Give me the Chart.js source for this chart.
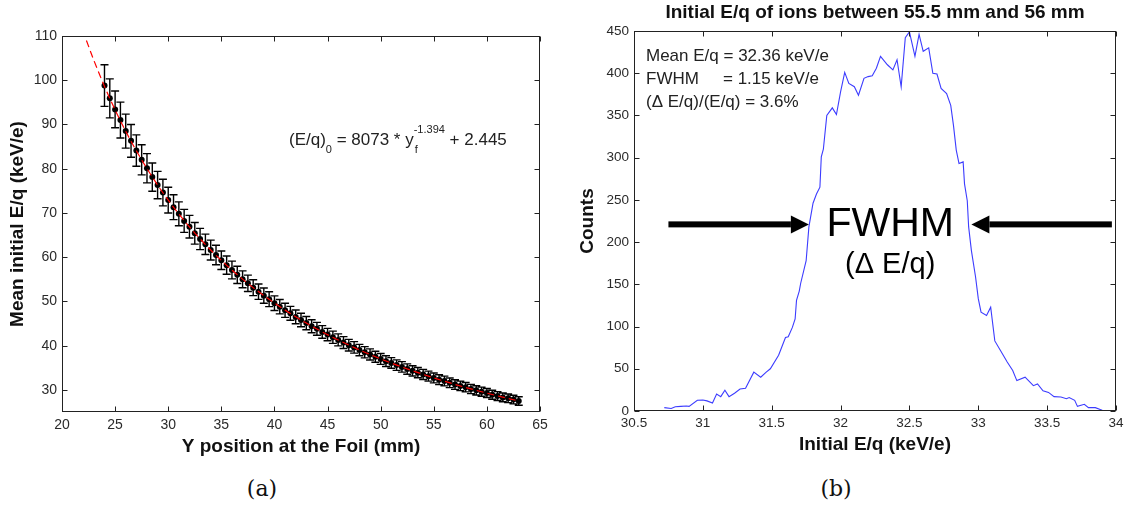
<!DOCTYPE html>
<html>
<head>
<meta charset="utf-8">
<script src="https://cdn.jsdelivr.net/npm/chart.js@4.4.1/dist/chart.umd.min.js"></script>
<style>
  html, body { margin: 0; padding: 0; background: #fff; }
  body { width: 1132px; height: 512px; position: relative; overflow: hidden; }
  .panel { position: absolute; top: 0; height: 470px; }
  #panelA { left: 0; width: 560px; }
  #panelB { left: 570px; width: 562px; }
  .caption {
    position: absolute; top: 476px;
    font-family: "DejaVu Serif", "Liberation Serif", serif;
    font-size: 22px; color: #111;
    transform: translateX(-50%);
  }
</style>
</head>
<body>
<div class="panel" id="panelA"><canvas id="fitChart"></canvas></div>
<div class="panel" id="panelB"><canvas id="histChart"></canvas></div>
<div class="caption" style="left:262px">(a)</div>
<div class="caption" style="left:836px">(b)</div>

<script>
const FONT = '"Liberation Sans", Arial, Helvetica, sans-serif';
Chart.defaults.font.family = FONT;
Chart.defaults.color = '#2a2a2a';

// ---- panel (a): mean initial E/q against foil position ----
const foilY = [
  24, 24.5, 25, 25.5, 26, 26.5, 27, 27.5, 28, 28.5, 29, 29.5, 30, 30.5, 31, 31.5,
  32, 32.5, 33, 33.5, 34, 34.5, 35, 35.5, 36, 36.5, 37, 37.5, 38, 38.5, 39, 39.5,
  40, 40.5, 41, 41.5, 42, 42.5, 43, 43.5, 44, 44.5, 45, 45.5, 46, 46.5, 47, 47.5,
  48, 48.5, 49, 49.5, 50, 50.5, 51, 51.5, 52, 52.5, 53, 53.5, 54, 54.5, 55, 55.5,
  56, 56.5, 57, 57.5, 58, 58.5, 59, 59.5, 60, 60.5, 61, 61.5, 62, 62.5, 63
];
const meanEq = [
  98.8, 95.9, 93.4, 91.0, 88.5, 86.3, 84.1, 82.0, 80.1, 78.1, 76.3, 74.6, 72.9, 71.3, 69.8, 68.2,
  66.9, 65.4, 64.1, 62.9, 61.6, 60.5, 59.3, 58.2, 57.1, 56.0, 55.0, 54.1, 53.1, 52.2, 51.3, 50.5,
  49.6, 48.8, 48.0, 47.3, 46.5, 45.8, 45.1, 44.4, 43.8, 43.1, 42.5, 41.9, 41.3, 40.7, 40.1, 39.6,
  39.0, 38.5, 38.0, 37.5, 37.0, 36.5, 36.1, 35.6, 35.2, 34.7, 34.3, 33.9, 33.5, 33.1, 32.7, 32.3,
  32.0, 31.6, 31.2, 30.9, 30.6, 30.2, 29.9, 29.6, 29.3, 28.9, 28.6, 28.3, 28.1, 27.8, 27.5
];
const meanEqErr = [
  4.7, 4.4, 4.15, 4.05, 3.85, 3.7, 3.55, 3.4, 3.3, 3.2, 3.1, 3.0, 2.9, 2.8, 2.7, 2.6,
  2.55, 2.45, 2.4, 2.3, 2.25, 2.2, 2.1, 2.05, 2.0, 1.95, 1.9, 1.85, 1.8, 1.75, 1.72, 1.68,
  1.65, 1.62, 1.6, 1.57, 1.55, 1.52, 1.5, 1.47, 1.45, 1.43, 1.4, 1.38, 1.36, 1.34, 1.32, 1.3,
  1.29, 1.27, 1.26, 1.24, 1.23, 1.22, 1.2, 1.19, 1.18, 1.17, 1.16, 1.15, 1.14, 1.13, 1.12, 1.11,
  1.1, 1.09, 1.08, 1.07, 1.06, 1.05, 1.04, 1.03, 1.02, 1.01, 1.0, 0.99, 0.98, 0.97, 0.96
];
// power-law fit (E/q)0 = 8073 * yf^-1.394 + 2.445, sampled along the foil
const fitCurveY = [
  22.3, 23, 24, 25, 26, 27, 28, 29, 30, 31, 32, 33, 34, 35, 36, 37, 38, 39, 40, 41, 42,
  43, 44, 45, 46, 47, 48, 49, 50, 51, 52, 53, 54, 55, 56, 57, 58, 59, 60, 61, 62, 63
];
const fitCurveEq = [
  108.98, 104.49, 98.61, 93.29, 88.46, 84.05, 80.02, 76.31, 72.90, 69.76, 66.84, 64.14,
  61.62, 59.28, 57.09, 55.04, 53.12, 51.32, 49.63, 48.03, 46.52, 45.10, 43.76, 42.48,
  41.27, 40.13, 39.04, 38.00, 37.01, 36.07, 35.17, 34.32, 33.50, 32.71, 31.96, 31.24,
  30.55, 29.89, 29.26, 28.64, 28.06, 27.49
];
const aTicksX = [20, 25, 30, 35, 40, 45, 50, 55, 60, 65];
const aTicksY = [30, 40, 50, 60, 70, 80, 90, 100, 110];

// ---- panel (b): E/q histogram for 55.5-56 mm ----
const histEq = [
  30.72, 30.77, 30.80, 30.84, 30.88, 30.90, 30.96, 31.00, 31.03, 31.07, 31.10, 31.13,
  31.16, 31.19, 31.23, 31.27, 31.31, 31.37, 31.42, 31.46, 31.49, 31.55, 31.60, 31.62,
  31.65, 31.67, 31.68, 31.70, 31.71, 31.75, 31.77, 31.80, 31.825, 31.85, 31.86, 31.875,
  31.90, 31.94, 31.97, 32.00, 32.03, 32.06, 32.10, 32.13, 32.17, 32.20, 32.23, 32.26,
  32.29, 32.34, 32.38, 32.41, 32.44, 32.47, 32.50, 32.54, 32.57, 32.60, 32.64, 32.67,
  32.70, 32.73, 32.77, 32.80, 32.82, 32.84, 32.86, 32.89, 32.90, 32.92, 32.93, 32.95,
  32.98, 33.00, 33.02, 33.06, 33.09, 33.12, 33.16, 33.21, 33.25, 33.28, 33.34, 33.40,
  33.43, 33.47, 33.51, 33.55, 33.60, 33.64, 33.66, 33.70, 33.72, 33.77, 33.80, 33.85,
  33.89, 33.90
];
const histCounts = [
  4, 3, 5, 5.5, 6, 5.5, 12.7, 13, 12, 9.5, 20, 17,
  24.5, 17, 21, 26, 27, 46, 40, 46, 50, 66, 87, 88,
  99, 109, 131, 142, 151, 178, 218, 246, 257, 265, 301, 310,
  350, 359, 351, 378, 401, 388, 384, 374, 394, 396, 397, 406,
  420, 410, 404, 416, 384, 442, 449, 420, 446, 426, 430, 400,
  399, 382, 376, 362, 338, 309, 293, 295, 269, 249, 218, 190,
  159, 133, 117, 113, 123, 83, 72, 58, 48, 36, 40, 30,
  32, 24, 22, 17, 16.5, 14.6, 16, 12.6, 5.5, 8, 4, 4,
  1.6, 1
];
const bTicksX = [30.5, 31, 31.5, 32, 32.5, 33, 33.5, 34];
const bTicksY = [0, 50, 100, 150, 200, 250, 300, 350, 400, 450];

// boxed axes with short inward tick marks on all four sides
const axisBox = {
  id: 'axisBox',
  afterDatasetsDraw(chart) {
    const { ctx, chartArea: a, scales: { x, y } } = chart;
    const L = Math.round(a.left) + 0.5, R = Math.round(a.right) - 0.5;
    const T = Math.round(a.top) + 0.5, B = Math.round(a.bottom) - 0.5;
    ctx.save();
    ctx.strokeStyle = '#222';
    ctx.lineWidth = 1;
    ctx.strokeRect(L, T, R - L, B - T);
    ctx.beginPath();
    x.ticks.forEach(t => {
      const px = Math.round(x.getPixelForValue(t.value)) + 0.5;
      ctx.moveTo(px, B); ctx.lineTo(px, B - 5);
      ctx.moveTo(px, T); ctx.lineTo(px, T + 5);
    });
    y.ticks.forEach(t => {
      const py = Math.round(y.getPixelForValue(t.value)) + 0.5;
      ctx.moveTo(L, py); ctx.lineTo(L + 5, py);
      ctx.moveTo(R, py); ctx.lineTo(R - 5, py);
    });
    ctx.stroke();
    ctx.restore();
  }
};

const errorBars = {
  id: 'errorBars',
  beforeDatasetsDraw(chart) {
    const { ctx, scales: { x, y } } = chart;
    ctx.save();
    ctx.strokeStyle = '#000';
    ctx.lineWidth = 1.4;
    ctx.beginPath();
    foilY.forEach((pos, i) => {
      const px = x.getPixelForValue(pos);
      const top = y.getPixelForValue(meanEq[i] + meanEqErr[i]);
      const bot = y.getPixelForValue(meanEq[i] - meanEqErr[i]);
      ctx.moveTo(px, top); ctx.lineTo(px, bot);
      ctx.moveTo(px - 4, top); ctx.lineTo(px + 4, top);
      ctx.moveTo(px - 4, bot); ctx.lineTo(px + 4, bot);
    });
    ctx.stroke();
    ctx.restore();
  }
};

// fit equation with sub/superscripts
const fitLabel = {
  id: 'fitLabel',
  afterDraw(chart) {
    const { ctx, chartArea: a } = chart;
    let x = a.left + 227;
    const base = a.top + 109;
    ctx.save();
    ctx.fillStyle = '#222';
    ctx.textBaseline = 'alphabetic';
    const put = (s, size, dy) => {
      ctx.font = `${size}px ${FONT}`;
      ctx.fillText(s, x, base + dy);
      x += ctx.measureText(s).width;
    };
    put('(E/q)', 17, 0);
    put('0', 11, 8);
    put(' = 8073 * y', 17, 0);
    ctx.font = `11px ${FONT}`;
    ctx.fillText('f', x + 1, base + 8);
    put('-1.394', 11, -12);
    put(' + 2.445', 17, 0);
    ctx.restore();
  }
};

const histNotes = {
  id: 'histNotes',
  afterDatasetsDraw(chart) {
    const { ctx, chartArea: a, scales: { x, y } } = chart;
    ctx.save();
    ctx.fillStyle = '#222';
    ctx.font = `17px ${FONT}`;
    ctx.textBaseline = 'alphabetic';
    ctx.textAlign = 'left';
    ctx.fillText('Mean E/q = 32.36 keV/e', a.left + 12, a.top + 30);
    ctx.fillText('FWHM', a.left + 12, a.top + 53);
    ctx.fillText('= 1.15 keV/e', a.left + 89, a.top + 53);
    ctx.fillText('(\u0394 E/q)/(E/q) = 3.6%', a.left + 12, a.top + 76);

    // FWHM arrows pointing at the half-maximum edges
    const arrow = (tail, tip, level) => {
      const x0 = x.getPixelForValue(tail), x1 = x.getPixelForValue(tip);
      const py = y.getPixelForValue(level);
      const dir = Math.sign(x1 - x0);
      const head = 18;
      ctx.fillStyle = '#000';
      ctx.fillRect(Math.min(x0, x1 - dir * head), py - 3, Math.abs(x1 - dir * head - x0), 6);
      ctx.beginPath();
      ctx.moveTo(x1, py);
      ctx.lineTo(x1 - dir * head, py - 9);
      ctx.lineTo(x1 - dir * head, py + 9);
      ctx.closePath();
      ctx.fill();
    };
    arrow(30.75, 31.77, 221);
    arrow(33.97, 32.95, 221);

    ctx.fillStyle = '#000';
    ctx.textAlign = 'center';
    ctx.font = `41px ${FONT}`;
    ctx.fillText('FWHM', x.getPixelForValue(32.36), y.getPixelForValue(207));
    ctx.font = `29px ${FONT}`;
    ctx.fillText('(\u0394 E/q)', x.getPixelForValue(32.36), y.getPixelForValue(163));
    ctx.restore();
  }
};

const tickFont = size => ({ size, family: FONT });
const titleFont = { size: 19, weight: 'bold', family: FONT };
const fixedTicks = list => scale => { scale.ticks = list.map(v => ({ value: v })); };
const plainLabel = v => String(v);

new Chart(document.getElementById('fitChart'), {
  type: 'scatter',
  data: {
    datasets: [
      {
        label: 'fit',
        data: fitCurveY.map((v, i) => ({ x: v, y: fitCurveEq[i] })),
        showLine: true,
        borderColor: '#ff0000',
        borderWidth: 1.2,
        borderDash: [7, 4],
        cubicInterpolationMode: 'monotone',
        pointRadius: 0,
        order: 0
      },
      {
        label: 'mean E/q',
        data: foilY.map((v, i) => ({ x: v, y: meanEq[i] })),
        pointRadius: 3,
        pointBackgroundColor: '#000',
        pointBorderWidth: 0,
        order: 1
      }
    ]
  },
  options: {
    responsive: true,
    maintainAspectRatio: false,
    animation: false,
    layout: { padding: { top: 36, right: 20, left: 0, bottom: 0 } },
    plugins: { legend: { display: false }, tooltip: { enabled: false } },
    scales: {
      x: {
        type: 'linear', min: 20, max: 65,
        afterBuildTicks: fixedTicks(aTicksX),
        afterFit: s => { s.height = 58; },
        grid: { display: false, drawTicks: false },
        border: { display: false },
        ticks: { padding: 5, autoSkip: false, maxRotation: 0, font: tickFont(14), color: '#2a2a2a', callback: plainLabel },
        title: { display: true, text: 'Y position at the Foil (mm)', font: titleFont, color: '#111', padding: { top: 0, bottom: 11.6 } }
      },
      y: {
        type: 'linear', min: 25, max: 110,
        afterBuildTicks: fixedTicks(aTicksY),
        afterFit: s => { s.width = 62; },
        grid: { display: false, drawTicks: false },
        border: { display: false },
        ticks: { padding: 5, autoSkip: false, font: tickFont(14), color: '#2a2a2a', callback: plainLabel },
        title: { display: true, text: 'Mean initial E/q (keV/e)', font: titleFont, color: '#111', padding: { top: 6.6, bottom: 0 } }
      }
    }
  },
  plugins: [errorBars, axisBox, fitLabel]
});

new Chart(document.getElementById('histChart'), {
  type: 'scatter',
  data: {
    datasets: [{
      label: 'counts',
      data: histEq.map((v, i) => ({ x: v, y: histCounts[i] })),
      showLine: true,
      borderColor: '#3c3cff',
      borderWidth: 1.1,
      pointRadius: 0
    }]
  },
  options: {
    responsive: true,
    maintainAspectRatio: false,
    animation: false,
    layout: { padding: { top: 0, right: 16, left: 0, bottom: 0 } },
    plugins: {
      legend: { display: false },
      tooltip: { enabled: false },
      title: {
        display: true,
        fullSize: false,
        text: 'Initial E/q of ions between 55.5 mm and 56 mm',
        font: titleFont,
        color: '#111',
        padding: { top: 1.6, bottom: 6.6 }
      }
    },
    scales: {
      x: {
        type: 'linear', min: 30.5, max: 34,
        afterBuildTicks: fixedTicks(bTicksX),
        afterFit: s => { s.height = 59; },
        grid: { display: false, drawTicks: false },
        border: { display: false },
        ticks: { padding: 4, autoSkip: false, maxRotation: 0, font: tickFont(13.5), color: '#2a2a2a', callback: plainLabel },
        title: { display: true, text: 'Initial E/q (keV/e)', font: titleFont, color: '#111', padding: { top: 0, bottom: 14 } }
      },
      y: {
        type: 'linear', min: 0, max: 450,
        afterBuildTicks: fixedTicks(bTicksY),
        afterFit: s => { s.width = 64; },
        grid: { display: false, drawTicks: false },
        border: { display: false },
        ticks: { padding: 5, autoSkip: false, font: tickFont(13.5), color: '#2a2a2a', callback: plainLabel },
        title: { display: true, text: 'Counts', font: titleFont, color: '#111', padding: { top: 6, bottom: 0 } }
      }
    }
  },
  plugins: [axisBox, histNotes]
});
</script>
</body>
</html>
